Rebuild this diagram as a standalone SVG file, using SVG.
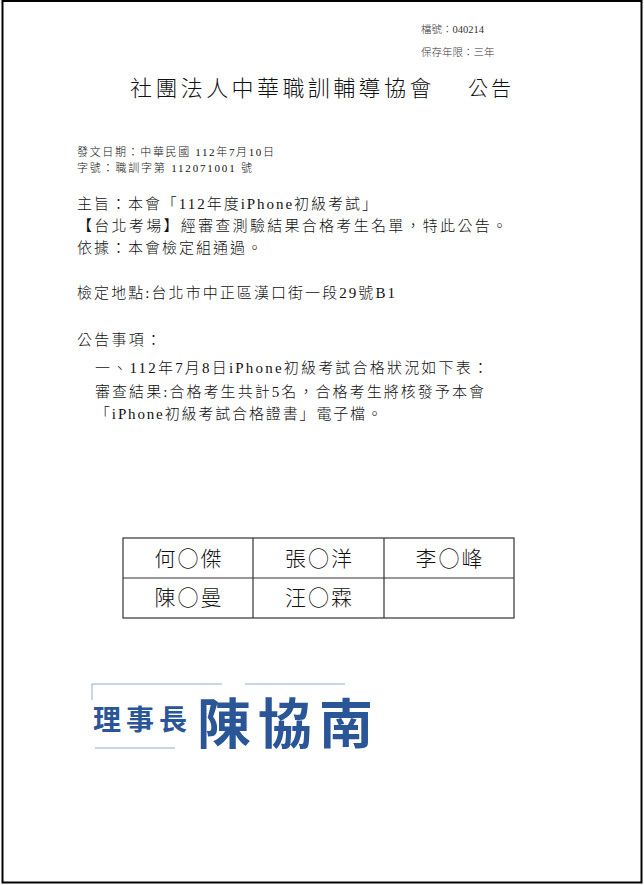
<svg xmlns="http://www.w3.org/2000/svg" width="644" height="885" viewBox="0 0 644 885">
<style>
.doc{font-family:"Liberation Serif","Noto Sans CJK TC",serif;fill:#111;font-weight:300;}
.sm{font-size:10.5px;fill:#333;}
.md{font-size:11px;}
.body{font-size:15px;}
.title{font-size:22px;}
.cell{font-family:"Noto Sans CJK TC","Liberation Serif",serif;font-size:21px;fill:#111;text-anchor:middle;font-weight:300;letter-spacing:2px;}
.grid{fill:none;stroke:#333;stroke-width:1.2;}
.stamp{font-family:"Noto Sans CJK TC",sans-serif;font-weight:700;fill:#2a5697;}
</style>
<rect x="0" y="0" width="644" height="885" fill="#fff"/>
<rect id="page-border" x="2.5" y="1" width="639" height="881.5" fill="none" stroke="#000" stroke-width="2"/>

<g id="file-info" class="doc sm">
  <text x="421" y="33">檔號：040214</text>
  <text x="421" y="56">保存年限：三年</text>
</g>

<g id="title" class="doc title">
  <text x="130" y="96" letter-spacing="3.4">社團法人中華職訓輔導協會</text>
  <text x="468" y="96" font-size="20" letter-spacing="3">公告</text>
</g>

<g id="doc-meta" class="doc md">
  <text x="77" y="156" textLength="197" lengthAdjust="spacing">發文日期：中華民國 112年7月10日</text>
  <text x="77" y="172" textLength="175" lengthAdjust="spacing">字號：職訓字第 112071001 號</text>
</g>

<g id="subject" class="doc body">
  <text x="77" y="209" textLength="300" lengthAdjust="spacing">主旨：本會「112年度iPhone初級考試」</text>
  <text x="77" y="231" textLength="430" lengthAdjust="spacing">【台北考場】經審查測驗結果合格考生名單，特此公告。</text>
  <text x="77" y="253" textLength="185" lengthAdjust="spacing">依據：本會檢定組通過。</text>
  <text x="77" y="298" textLength="318" lengthAdjust="spacing">檢定地點:台北市中正區漢口街一段29號B1</text>
</g>

<g id="notice" class="doc body">
  <text x="77" y="345" textLength="84" lengthAdjust="spacing">公告事項：</text>
  <text x="95" y="373" textLength="393" lengthAdjust="spacing">一、112年7月8日iPhone初級考試合格狀況如下表：</text>
  <text x="95" y="397" textLength="389" lengthAdjust="spacing">審查結果:合格考生共計5名，合格考生將核發予本會</text>
  <text x="95" y="419" textLength="287" lengthAdjust="spacing">「iPhone初級考試合格證書」電子檔。</text>
</g>

<g id="pass-table">
  <rect class="grid" x="123" y="538" width="391" height="80"/>
  <line class="grid" x1="123" y1="578" x2="514" y2="578"/>
  <line class="grid" x1="253" y1="538" x2="253" y2="618"/>
  <line class="grid" x1="384" y1="538" x2="384" y2="618"/>
  <text class="cell" x="189" y="566">何○傑</text>
  <text class="cell" x="319.5" y="566">張○洋</text>
  <text class="cell" x="450" y="566">李○峰</text>
  <text class="cell" x="189" y="605">陳○曼</text>
  <text class="cell" x="319.5" y="605">汪○霖</text>
</g>

<g id="seal">
  <path d="M92,700 V684 H222 M245,684 H345 M95,748 H175" fill="none" stroke="#4a72b0" stroke-width="1" stroke-opacity="0.6"/>
  <text class="stamp" x="93" y="730" font-size="28" letter-spacing="5">理事長</text>
  <text class="stamp" x="197" y="744" font-size="54" letter-spacing="7">陳協南</text>
</g>
</svg>
